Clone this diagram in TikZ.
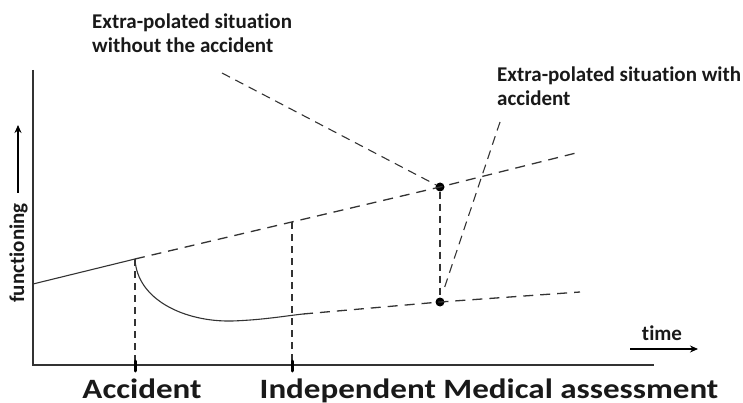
\documentclass[tikz,border=0pt]{standalone}
\usepackage{fontspec}
\setmainfont{Carlito}[Ligatures=NoCommon]
\newfontfamily\widefont{Carlito}[FakeStretch=1.18,Ligatures=NoCommon]
\usetikzlibrary{arrows.meta}
\begin{document}
\begin{tikzpicture}[x=1pt,y=-1pt,
  axis/.style={line width=1.6pt,draw=black!80},
  curve/.style={line width=1.1pt,draw=black!80},
  longdash/.style={line width=1.3pt,draw=black!80,dash pattern=on 10pt off 7pt},
  shortdash/.style={line width=1.1pt,draw=black!80,dash pattern=on 7pt off 5pt},
  pointer/.style={line width=1.1pt,draw=black!80,dash pattern=on 9pt off 6pt},
  tick/.style={line width=3pt,line cap=round,draw=black},
  dot/.style={circle,fill=black,inner sep=0pt,minimum size=9pt},
  lbl/.style={font=\bfseries\fontsize{21}{24}\selectfont,align=left,inner sep=0pt},
  biglbl/.style={font=\widefont\bfseries\fontsize{28}{30}\selectfont,inner sep=0pt},
  axarrow/.style={line width=1.1pt,-{Stealth[length=8pt,width=7pt]}},
  every node/.style={text=black!90}]
\useasboundingbox (0,0) rectangle (743,403);

% axes
\coordinate (origin) at (33,365);
\coordinate (ytop) at (33,70);
\coordinate (xend) at (654,365);
\draw[axis] (ytop) -- (origin) -- (xend);

% key points
\coordinate (start) at (33,284);
\coordinate (acc) at (135,259);
\coordinate (accbase) at (135,365);
\coordinate (imaup) at (292,222);
\coordinate (imabase) at (292,365);
\coordinate (solidend) at (303,314);
\coordinate (upend) at (580,152);
\coordinate (lowend) at (580,292);
\node[dot] (updot) at (440,187) {};
\node[dot] (lowdot) at (440,302) {};

% functioning before the accident, then the drop and slow recovery
\draw[curve] (start) -- (acc);
\draw[curve] (acc) .. controls (137,300) and (185,322) .. (232,321)
  .. controls (262,320) and (285,316) .. (solidend);

% extrapolations
\draw[longdash] (acc) -- (updot.center) -- (upend);
\draw[longdash] (solidend) -- (lowdot.center) -- (lowend);

% vertical guides
\draw[shortdash] (acc) -- (accbase);
\draw[shortdash] (imaup) -- (imabase);
\draw[shortdash] (updot) -- (lowdot);

% ticks on the time axis
\draw[tick] (135,361) -- (135,371);
\draw[tick] (292,361) -- (292,371);

% labels with pointers
\node[lbl,anchor=north west] (lblno) at (92,14) {Extra-polated situation\\without the accident};
\node[lbl,anchor=north west] (lblwith) at (497,67) {Extra-polated situation with\\accident};
\coordinate (pno) at (222,73);
\coordinate (pwith) at (500,122);
\coordinate (pwithend) at (443,292);
\draw[pointer] (pno) -- (updot);
\draw[pointer] (pwith) -- (pwithend);

% axis titles
\node[lbl,rotate=90,anchor=base] (fun) at (24,253) {functioning};
\coordinate (fa1) at (18,193);
\coordinate (fa2) at (18,125);
\draw[axarrow] (fa1) -- (fa2);
\node[lbl,anchor=base] (time) at (662,340) {time};
\coordinate (ta1) at (630,349);
\coordinate (ta2) at (698,349);
\draw[axarrow] (ta1) -- (ta2);

% event names
\node[biglbl,anchor=base] (accname) at (142,398) {Accident};
\node[biglbl,anchor=base] (imaname) at (489,398) {Independent Medical assessment};
\end{tikzpicture}
\end{document}
